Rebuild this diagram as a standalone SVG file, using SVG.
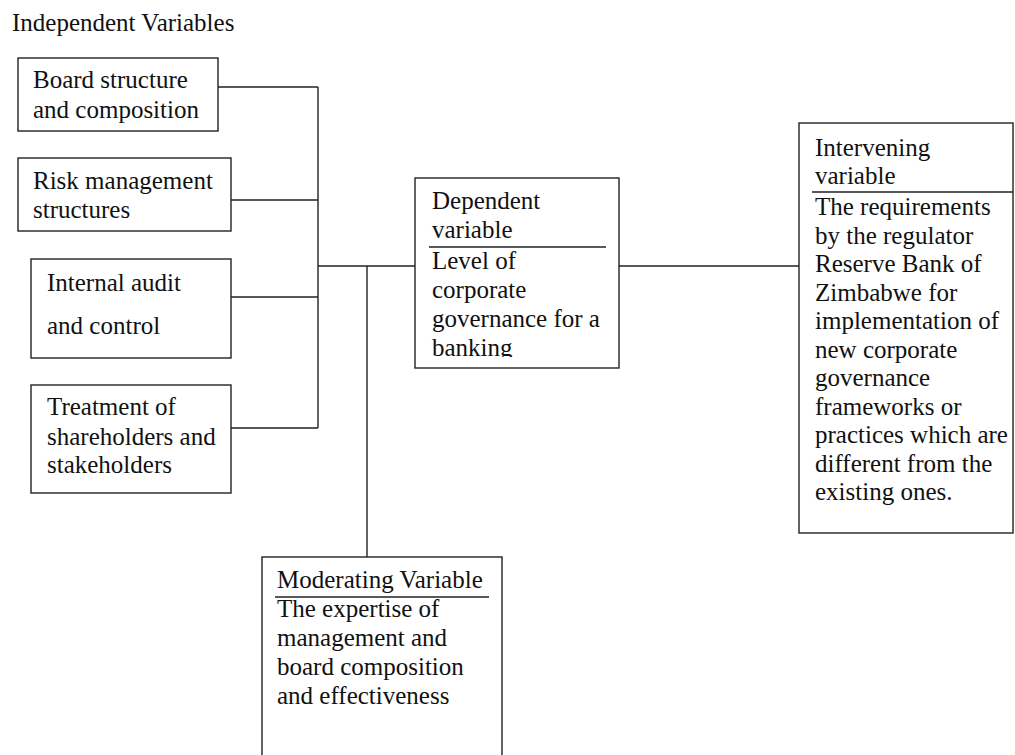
<svg xmlns="http://www.w3.org/2000/svg" width="1015" height="755" viewBox="0 0 1015 755">
<style>
text{font-family:'Liberation Serif','Times New Roman','DejaVu Serif',serif;font-size:25px;fill:#111}
.box{fill:#fff;stroke:#222;stroke-width:1.4}
.ln{fill:none;stroke:#222;stroke-width:1.4}
</style>
<defs>
<clipPath id="depclip"><rect x="415" y="178" width="204" height="179"/></clipPath>
</defs>
<rect width="1015" height="755" fill="#fff"/>
<text x="12" y="31" font-family="Liberation Serif, serif">Independent Variables</text>
<g id="connectors">
<path class="ln" d="M218 87H318M231 200H318M231 297H318M231 428H318M318 87V428M318 266H415M367 266V557M619 266H799"/>
</g>
<g id="board">
<rect class="box" x="18" y="58" width="200" height="73"/>
<text x="33" y="88">Board structure</text>
<text x="33" y="118">and composition</text>
</g>
<g id="risk">
<rect class="box" x="18" y="158" width="213" height="73"/>
<text x="33" y="189">Risk management</text>
<text x="33" y="218">structures</text>
</g>
<g id="audit">
<rect class="box" x="31" y="259" width="200" height="99"/>
<text x="47" y="291">Internal audit</text>
<text x="47" y="334">and control</text>
</g>
<g id="treatment">
<rect class="box" x="31" y="385" width="200" height="108"/>
<text x="47" y="415">Treatment of</text>
<text x="47" y="445">shareholders and</text>
<text x="47" y="473">stakeholders</text>
</g>
<g id="dependent">
<rect class="box" x="415" y="178" width="204" height="190"/>
<g clip-path="url(#depclip)">
<text x="432" y="209">Dependent</text>
<text x="432" y="238">variable</text>
<text x="432" y="269">Level of</text>
<text x="432" y="298">corporate</text>
<text x="432" y="327">governance for a</text>
<text x="432" y="356">banking</text>
</g>
<path class="ln" d="M429 247H606"/>
</g>
<g id="intervening">
<rect class="box" x="799" y="123" width="214" height="410"/>
<text x="815" y="156">Intervening</text>
<text x="815" y="184">variable</text>
<path class="ln" d="M812 192H1013"/>
<text x="815" y="215">The requirements</text>
<text x="815" y="243.5">by the regulator</text>
<text x="815" y="272">Reserve Bank of</text>
<text x="815" y="300.5">Zimbabwe for</text>
<text x="815" y="329">implementation of</text>
<text x="815" y="357.5">new corporate</text>
<text x="815" y="386">governance</text>
<text x="815" y="414.5">frameworks or</text>
<text x="815" y="443">practices which are</text>
<text x="815" y="471.5">different from the</text>
<text x="815" y="500">existing ones.</text>
</g>
<g id="moderating">
<rect class="box" x="262" y="557" width="240" height="210"/>
<text x="277" y="588">Moderating Variable</text>
<path class="ln" d="M275 597H489"/>
<text x="277" y="617">The expertise of</text>
<text x="277" y="646">management and</text>
<text x="277" y="675">board composition</text>
<text x="277" y="704">and effectiveness</text>
</g>
</svg>
